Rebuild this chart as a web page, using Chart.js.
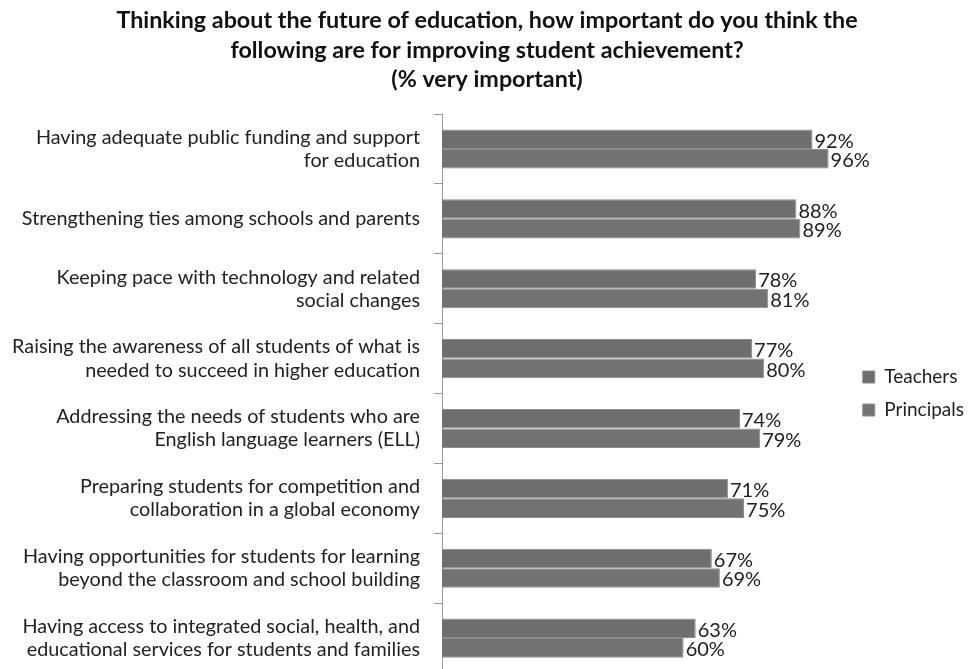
<!DOCTYPE html>
<html><head><meta charset="utf-8">
<script src="https://cdn.jsdelivr.net/npm/chart.js@4"></script>
<style>html,body{margin:0;padding:0;background:#fff;overflow:hidden}#wrap{width:974px;height:676px;position:relative}</style>
</head><body><div id="wrap"><canvas id="c"></canvas></div>
<script>
const categories = [
  ["Having adequate public funding and support", "for education"],
  ["Strengthening ties among schools and parents"],
  ["Keeping pace with technology and related", "social changes"],
  ["Raising the awareness of all students of what is", "needed to succeed in higher education"],
  ["Addressing the needs of students who are", "English language learners (ELL)"],
  ["Preparing students for competition and", "collaboration in a global economy"],
  ["Having opportunities for students for learning", "beyond the classroom and school building"],
  ["Having access to integrated social, health, and", "educational services for students and families"]
];
const teachers = [92, 88, 78, 77, 74, 71, 67, 63];
const principals = [96, 89, 81, 80, 79, 75, 69, 60];
const titleLines = ["Thinking about the future of education, how important do you think the", "following are for improving student achievement?", "(% very important)"];

const FONT = "Lato, 'Open Sans', sans-serif";
const valueLabels = {
  id: 'valueLabels',
  afterDatasetsDraw(chart) {
    const ctx = chart.ctx;
    ctx.save();
    ctx.font = "20px " + FONT;
    ctx.fillStyle = "#222";
    ctx.textBaseline = "middle";
    ctx.textAlign = "left";
    chart.data.datasets.forEach((ds, i) => {
      chart.getDatasetMeta(i).data.forEach((bar, j) => {
        ctx.fillText(ds.data[j] + "%", bar.x + 2, bar.y + 2);
      });
    });
    ctx.restore();
  }
};

new Chart(document.getElementById('c'), {
  type: 'bar',
  data: {
    labels: categories,
    datasets: [
      { label: 'Teachers', data: teachers, backgroundColor: '#6e6e6e', borderColor: '#8c8c8c', borderWidth: 1 },
      { label: 'Principals', data: principals, backgroundColor: '#727272', borderColor: '#8c8c8c', borderWidth: 1 }
    ]
  },
  options: {
    indexAxis: 'y',
    responsive: true,
    maintainAspectRatio: false,
    animation: false,
    datasets: { bar: { barPercentage: 1, categoryPercentage: 0.56 } },
    layout: { padding: { top: 0, right: 0, bottom: 3, left: 0 } },
    scales: {
      x: { display: false, min: 0, max: 101 },
      y: {
        offset: true,
        afterFit(scale) { scale.width = 442; scale.paddingTop = 0; scale.paddingBottom = 0; },
        grid: { offset: true, drawOnChartArea: false, tickLength: 8, color: '#9a9a9a' },
        border: { color: '#9a9a9a', width: 1 },
        ticks: { color: '#222', font: { family: FONT, size: 19.8, lineHeight: 1.17 }, padding: 14, crossAlign: 'near' }
      }
    },
    plugins: {
      title: { display: true, text: titleLines, color: '#111', font: { family: FONT, size: 23.3, weight: 'bold', lineHeight: 1.26 }, padding: { top: 6, bottom: 20 } },
      legend: { position: 'right', fullSize: false, labels: { color: '#222', font: { family: FONT, size: 19 }, boxWidth: 12, boxHeight: 12, padding: 14 } },
      tooltip: { enabled: false }
    }
  },
  plugins: [valueLabels]
});
</script></body></html>
